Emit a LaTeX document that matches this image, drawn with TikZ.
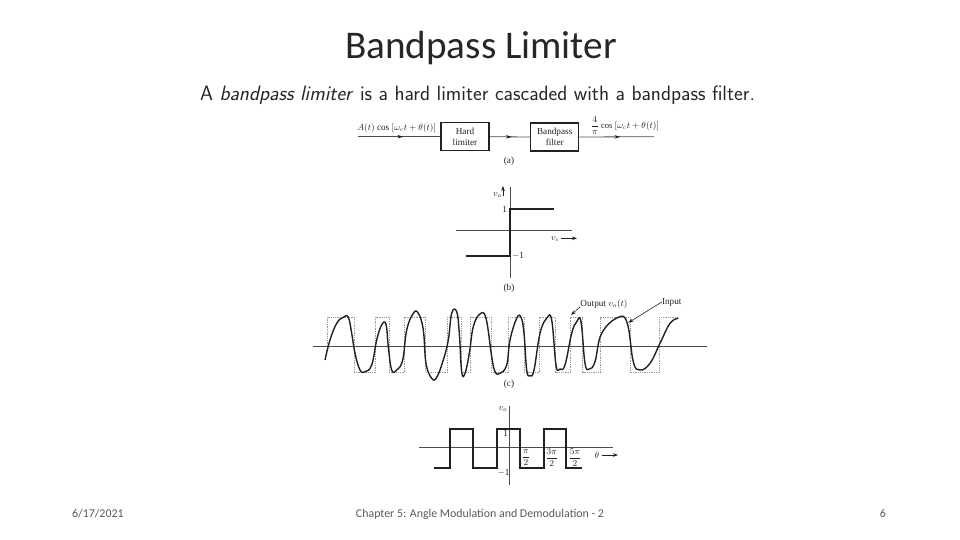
\documentclass[tikz,border=0pt]{standalone}
\usepackage{fontspec}
\setmainfont{Carlito}
\newfontfamily\scanfont{Liberation Serif}
\usetikzlibrary{arrows.meta,decorations.markings}
\definecolor{ink}{gray}{0.13}
\definecolor{axisc}{gray}{0.3}
\definecolor{foot}{gray}{0.35}
\tikzset{
  scan/.style={font=\scanfont\fontsize{9.2}{10}\selectfont, text=ink, inner sep=0pt, align=center},
  blockbox/.style={draw=ink, line width=1.1pt, fill=white, minimum width=48pt, minimum height=28pt, inner sep=0pt, font=\scanfont\fontsize{9.2}{11.5}\selectfont, text=ink, align=center},
  sig/.style={draw=axisc, line width=.8pt, postaction={decorate}, decoration={markings, mark=at position .55 with {\arrow[ink]{Stealth[length=6pt,width=3.5pt]}}}},
  axisline/.style={draw=axisc, line width=1pt},
  thick trace/.style={draw=ink, line width=1.9pt},
  wave/.style={draw=ink, line width=1.4pt, line join=round},
  squarewave/.style={draw=gray!80, line width=.7pt, dash pattern=on 1.3pt off 1pt},
  pointer/.style={draw=ink, line width=.6pt, -{Stealth[length=5pt,width=3.5pt]}},
  footer/.style={font=\fontsize{11.9}{13}\selectfont, text=foot, inner sep=0pt}
}
\begin{document}
\begin{tikzpicture}[x=1pt,y=-1pt]
\useasboundingbox (0,0) rectangle (960,540);
\node[inner sep=0pt,font=\fontsize{39.2}{42}\selectfont,text=black!85] (title) at (481,48.5) {Bandpass Limiter};
\node[inner sep=0pt,font=\sffamily\fontsize{20.8}{23}\selectfont,text=black!85] (intro) at (477.5,95) {A \textit{bandpass limiter} is a hard limiter cascaded with a bandpass filter.};

% (a)
\node[blockbox] (hl) at (465,136.7) {Hard\\limiter};
\node[blockbox] (bp) at (554.7,137) {Bandpass\\filter};
\coordinate (in) at (358,136.7);
\coordinate (out) at (654,136.7);
\draw[sig] (in) -- (hl.west);
\draw[sig] (hl.east) -- (bp.west);
\draw[sig] (bp.east) -- (out);
\node[scan] (inlab) at (396.7,128) {$A(t)$ cos $[\omega_c t+\theta(t)]$};
\node[scan,font=\scanfont\fontsize{8.6}{10}\selectfont] (outlab) at (625,126) {$\displaystyle\frac{4}{\pi}$ cos $[\omega_c t+\theta(t)]$};
\node[scan] (capa) at (509,161) {(a)};

% (b)
\coordinate (bT) at (510.3,187); \coordinate (bB) at (510.3,278);
\coordinate (bL) at (456,230.7); \coordinate (bR) at (572,230.7);
\draw[axisline] (bT) -- (bB);
\draw[axisline] (bL) -- (bR);
\coordinate (b1) at (554,208.7); \coordinate (b2) at (510.3,208.7);
\coordinate (b3) at (510.3,255.7); \coordinate (b4) at (466,255.7);
\draw[thick trace] (b1) -- (b2) -- (b3) -- (b4);
\node[scan] (vo) at (497.5,195) {$v_o$};
\coordinate (voa) at (503,196); \coordinate (vob) at (503,186);
\draw[pointer] (voa) -- (vob);
\node[scan] (bone) at (504.7,209) {1};
\node[scan] (bmone) at (518,256) {$-$1};
\node[scan] (vi) at (555,239) {$v_i$};
\coordinate (via) at (561,238.3); \coordinate (vib) at (577,238.3);
\draw[pointer] (via) -- (vib);
\node[scan] (capb) at (509,288) {(b)};

% (c)
\coordinate (cL) at (313,346); \coordinate (cR) at (707,346);
\draw[squarewave] (327.3,346) -- (327.3,317) -- (354.3,317) -- (354.3,372) -- (375.7,372) -- (375.7,317) -- (389,317) -- (389,372) -- (404.3,372) -- (404.3,317) -- (425.7,317) -- (425.7,372) -- (447.3,372) -- (447.3,317) -- (461,317) -- (461,372) -- (470.7,372) -- (470.7,317) -- (491,317) -- (491,372) -- (508.3,372) -- (508.3,317) -- (524,317) -- (524,372) -- (539.3,372) -- (539.3,317) -- (555,317) -- (555,372) -- (570.3,372) -- (570.3,317) -- (582.7,317) -- (582.7,372) -- (600.7,372) -- (600.7,317) -- (630.7,317) -- (630.7,372) -- (659.3,372) -- (659.3,317) -- (678,317);
\draw[axisline] (cL) -- (cR);
\draw[wave] plot[smooth,tension=.7] coordinates {
(325,360) (330,340) (336.7,323.3) (343.3,317.3) (348.3,317.3) (351.7,333.3) (355,353.3) (360,370) (365,371.7) (371.7,365) (376.7,340) (381.7,325) (386,324.3) (388.3,346.7) (391.7,370) (396.7,370) (402.7,360) (406.7,330) (413.3,313.3) (418.3,313.3) (423.3,330) (426,363.3) (431.7,378.3) (436.7,377.3) (443.3,360) (448.3,340) (451.7,313.3) (456.7,311.7) (459.3,333.3) (461.7,371.7) (465,373.3) (469.3,353.3) (473.3,326.7) (480,314) (486,318.3) (491.7,356.7) (495,371.7) (500,373.3) (506.7,365) (510,340) (516.7,318.3) (521,317.3) (524,333.3) (526.7,370) (530,375.7) (534,370) (540,333.3) (546.7,318.3) (551.7,320) (556,365) (560,369) (565,365) (571.7,333.3) (576.7,321.7) (581,321.7) (585,363.3) (589.3,369) (595,361.7) (601.7,333.3) (618.3,317.3) (627.3,323.3) (633.3,361.7) (640,370) (650,363.3) (660,343.3) (670,323.3) (678.3,318.3)};
\node[scan] (outp) at (604,304) {Output $v_o(t)$};
\node[scan] (inp) at (671.7,302) {Input};
\coordinate (outtip) at (571,315);
\coordinate (intip) at (628.3,322.7);
\draw[pointer] (outp.south west) ++(0,-2) -- (outtip);
\draw[pointer] (inp.west) -- (intip);
\node[scan] (capc) at (509,384) {(c)};

% (d)
\coordinate (dT) at (509.3,406); \coordinate (dB) at (509.3,485);
\coordinate (dL) at (419,447.7); \coordinate (dR) at (613,447.7);
\draw[axisline] (dT) -- (dB);
\draw[axisline] (dL) -- (dR);
\draw[thick trace] (434,467.7) -- (450,467.7) -- (450,429) -- (473.3,429) -- (473.3,467.7) -- (496.7,467.7) -- (496.7,429) -- (520.3,429) -- (520.3,467.7) -- (543.7,467.7) -- (543.7,429) -- (566,429) -- (566,467.7) -- (582.3,467.7);
\node[scan] (dvo) at (503,409) {$v_o$};
\node[scan] (done) at (505.7,433) {1};
\node[scan] (dmone) at (503.5,472.7) {$-$1};
\node[scan] (p1) at (526,458) {$\displaystyle\frac{\pi}{2}$};
\node[scan] (p3) at (551.7,458) {$\displaystyle\frac{3\pi}{2}$};
\node[scan] (p5) at (575,458) {$\displaystyle\frac{5\pi}{2}$};
\node[scan] (theta) at (597,455.7) {$\theta$};
\coordinate (tha) at (602,455); \coordinate (thb) at (618,455);
\draw[pointer] (tha) -- (thb);

% footer
\node[footer,anchor=west] (fdate) at (72,514) {6/17/2021};
\node[footer] (fmid) at (480,514) {Chapter 5: Angle Modulation and Demodulation - 2};
\node[footer] (fnum) at (883,514) {6};
\end{tikzpicture}
\end{document}
